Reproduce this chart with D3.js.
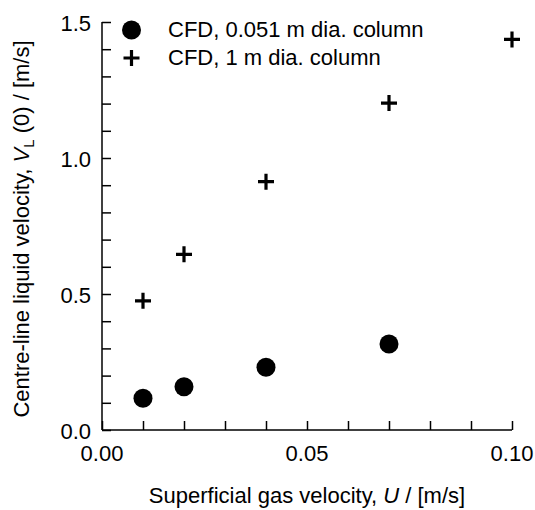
<!DOCTYPE html>
<html><head><meta charset="utf-8">
<script src="https://cdn.jsdelivr.net/npm/d3@7"></script>
<style>
body{margin:0;background:#fff;}
text{font-family:"Liberation Sans",Arial,Helvetica,sans-serif;fill:#000;}
</style></head>
<body><svg id="c" width="535" height="510"></svg>
<script>
const xSmall = [0.01, 0.02, 0.04, 0.07];
const ySmall = [0.117, 0.159, 0.231, 0.316];
const xLarge = [0.01, 0.02, 0.04, 0.07, 0.10];
const yLarge = [0.475, 0.646, 0.913, 1.202, 1.436];
const xTicks = [0.00, 0.05, 0.10];
const xTickLabels = ["0.00", "0.05", "0.10"];
const yTicks = [0.0, 0.5, 1.0, 1.5];
const yTickLabels = ["0.0", "0.5", "1.0", "1.5"];
const legendLabels = ["CFD, 0.051 m dia. column", "CFD, 1 m dia. column"];

const FS = 22;
const svg = d3.select("#c");
const x = d3.scaleLinear().domain([0, 0.1]).range([102, 512]);
const y = d3.scaleLinear().domain([0, 1.5]).range([430, 22]);
const g = svg.append("g");

// X axis (ticks inward)
const xAxis = d3.axisBottom(x).tickValues(d3.range(0, 11).map(i => i / 100)).tickSize(-9).tickFormat("");
const gx = g.append("g").attr("transform", `translate(0,${y(0)})`).call(xAxis);
gx.select(".domain").attr("d", `M${x(0)},0H${x(0.1)}`);
gx.selectAll("line").attr("stroke-width", 1.5);
gx.select(".domain").attr("stroke-width", 1.5);

const yAxis = d3.axisLeft(y).tickValues(d3.range(0, 16).map(i => i / 10)).tickSize(-9).tickFormat("");
const gy = g.append("g").attr("transform", `translate(${x(0)},0)`).call(yAxis);
gy.select(".domain").attr("d", `M0,${y(0)}V${y(1.5)}`);
gy.selectAll("line").attr("stroke-width", 1.5);
gy.select(".domain").attr("stroke-width", 1.5);

// tick labels
g.selectAll(".xl").data(xTicks).enter().append("text")
  .attr("x", d => x(d)).attr("y", 461).attr("text-anchor", "middle")
  .attr("font-size", FS).text((d, i) => xTickLabels[i]);
g.selectAll(".yl").data(yTicks).enter().append("text")
  .attr("x", 91).attr("y", d => y(d) + 8.5).attr("text-anchor", "end")
  .attr("font-size", FS).text((d, i) => yTickLabels[i]);

// axis titles
const xt = g.append("text").attr("x", (x(0) + x(0.1)) / 2).attr("y", 503)
  .attr("text-anchor", "middle").attr("font-size", FS);
xt.append("tspan").text("Superficial gas velocity, ");
xt.append("tspan").attr("font-style", "italic").text("U");
xt.append("tspan").text(" / [m/s]");

const yt = g.append("text").attr("transform", `translate(29,229) rotate(-90)`)
  .attr("text-anchor", "middle").attr("font-size", FS);
yt.append("tspan").text("Centre-line liquid velocity, ");
yt.append("tspan").attr("font-style", "italic").text("V");
yt.append("tspan").attr("font-size", 15).attr("dy", 5).text("L");
yt.append("tspan").attr("dy", -5).text(" (0) / [m/s]");

// data
g.selectAll(".dot").data(xSmall).enter().append("circle")
  .attr("cx", d => x(d)).attr("cy", (d, i) => y(ySmall[i])).attr("r", 9.5).attr("fill", "#000");

const plus = (sel, s, w) => sel.append("path")
  .attr("d", `M${-s},0H${s}M0,${-s}V${s}`).attr("stroke", "#000").attr("stroke-width", w).attr("fill", "none");
xLarge.forEach((d, i) => {
  const p = g.append("g").attr("transform", `translate(${x(d)},${y(yLarge[i])})`);
  plus(p, 8, 3.2);
});

// legend
const lg = g.append("g");
lg.append("circle").attr("cx", 131.5).attr("cy", 30).attr("r", 9.5).attr("fill", "#000");
plus(lg.append("g").attr("transform", "translate(131.5,58)"), 8, 3.2);
lg.selectAll(".lt").data(legendLabels).enter().append("text")
  .attr("x", 168).attr("y", (d, i) => 37 + i * 28).attr("font-size", FS).text(d => d);
</script></body></html>
